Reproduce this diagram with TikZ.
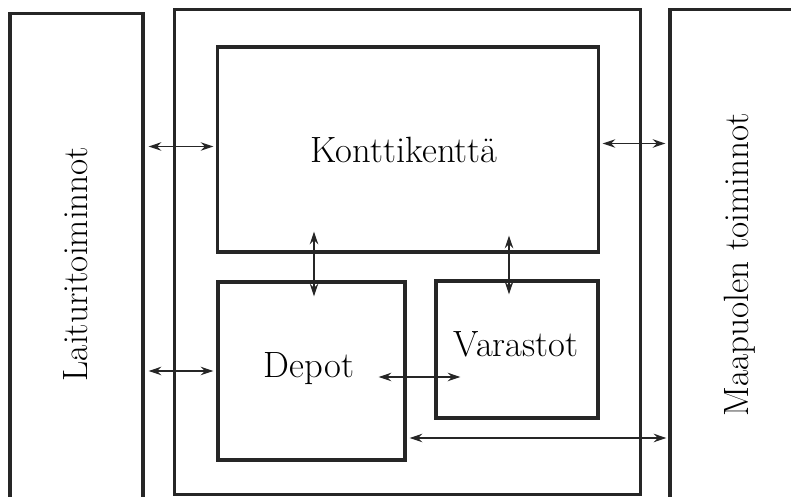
\documentclass[tikz,border=0pt]{standalone}
\usepackage{tikz}
\usetikzlibrary{arrows.meta, positioning, calc}

\begin{document}
\begin{tikzpicture}[x=0.025cm, y=-0.025cm,
		box/.style={draw=black!85, line width=2.2pt, inner sep=0pt},
		lbl/.style={font=\fontsize{26}{30}\selectfont},
		side/.style={rotate=90, font=\fontsize{25}{29}\selectfont},
		arr/.style={{Stealth[length=9pt, width=6pt]}-{Stealth[length=9pt, width=6pt]}, line width=1pt, black!85}]
	\useasboundingbox (0,0) rectangle (791,497);
	\clip (0,0) rectangle (791,497);
	% Reunat
	\node[box, minimum width=3.325cm, minimum height=12.4cm] (laituri) at (76.5,262) {};
	\node[box, minimum width=11.625cm, minimum height=12.1cm] (satama) at (407.5,252) {};
	\node[box, minimum width=3.5cm, minimum height=12.5cm] (maapuoli) at (740,260) {};
	\node[side] (laiturilbl) at (76,264) {Laituritoiminnot};
	\node[side] (maapuolilbl) at (740,265) {Maapuolen toiminnot};

	% Sisaosat
	\node[box, minimum width=9.5cm, minimum height=5.125cm] (kontti) at (408,149.5) {};
	\node[lbl] (konttilbl) at (404,150) {Konttikenttä};
	\node[box, minimum width=4.675cm, minimum height=4.45cm] (depot) at (311.5,371) {};
	\node[lbl] (depotlbl) at (309,369) {Depot};
	\node[box, minimum width=4.05cm, minimum height=3.425cm] (varasto) at (517,349.5) {};
	\node[lbl] (varastolbl) at (516,344) {Varastot};

	% Yhteydet
	\draw[arr] ($(laituri.east |- kontti.west)+(4,-3)$) -- ($(kontti.west)+(-3,-3)$);
	\draw[arr] ($(laituri.east |- depot.west)+(4,0)$) -- ($(depot.west)+(-3,0)$);
	\draw[arr] ($(kontti.east)+(3,-6)$) -- ($(maapuoli.west |- kontti.east)+(-3,-6)$);
	\draw[arr] ($(kontti.south -| 314,0)+(0,-22)$) -- ($(depot.north -| 314,0)+(0,16)$);
	\draw[arr] ($(kontti.south -| 509,0)+(0,-18)$) -- ($(varasto.north -| 509,0)+(0,15)$);
	\draw[arr] ($(depot.east)+(-28,6)$) -- ($(varasto.west |- depot.east)+(26,6)$);
	\draw[arr] ($(depot.east)+(3,67)$) -- ($(maapuoli.west |- depot.east)+(-2,67)$);
\end{tikzpicture}
\end{document}
